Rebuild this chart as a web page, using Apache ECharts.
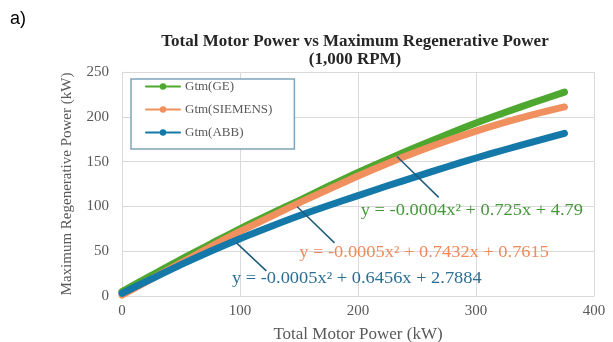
<!DOCTYPE html>
<html>
<head>
<meta charset="utf-8">
<script src="https://cdn.jsdelivr.net/npm/echarts@6/dist/echarts.min.js"></script>
<style>
  html, body { margin: 0; padding: 0; background: #ffffff; }
  #chart { width: 613px; height: 342px; }
</style>
</head>
<body>
<div id="chart"></div>
<script>
// Total motor power (kW) on the x axis
const motorPower = [0, 25, 50, 75, 100, 125, 150, 175, 200, 225, 250, 275, 300, 325, 350, 375];

// Maximum regenerative power (kW) for each motor maker
const gtmGE      = [5, 23, 41, 58, 75, 91, 106.5, 122.5, 138, 152.5, 166.5, 180, 193, 205, 216.5, 227.5];
const gtmSiemens = [1, 19, 37, 55, 72, 88, 104, 119, 134, 148, 161, 173, 184, 194, 203, 211];
const gtmABB     = [3, 19, 35, 50, 64, 77, 89.5, 101, 112, 123, 133.5, 144, 154, 163.5, 172.5, 181.5];

const seriesNames = ['Gtm(GE)', 'Gtm(SIEMENS)', 'Gtm(ABB)'];
const seriesColors = ['#4ea72e', '#f0905e', '#1479a8'];
const equationColors = ['#46973a', '#f08a5a', '#2b6f95'];

// Polynomial trendline equations, each with a leader line
const equations = [
  'y = -0.0004x² + 0.725x + 4.79',
  'y = -0.0005x² + 0.7432x + 0.7615',
  'y = -0.0005x² + 0.6456x + 2.7884'
];
// leader start (on the curve) and end (near the label), in data units
const leaderFrom = [[233, 155.6], [148.5, 99.6], [97, 59.3]];
const leaderTo   = [[268.4, 110.1], [180.1, 59.3], [122.3, 28.0]];
// label centre, in data units
const labelAt    = [[296.5, 95], [256, 48.3], [199, 18.9]];

const serif = '"Liberation Serif", "Times New Roman", "DejaVu Serif", serif';
const grayText = '#595959';

const chart = echarts.init(document.getElementById('chart'));

function pairs(xs, ys) { return xs.map((x, i) => [x, ys[i]]); }

const seriesData = [gtmGE, gtmSiemens, gtmABB];

chart.setOption({
  animation: false,
  backgroundColor: '#ffffff',
  title: {
    text: 'Total Motor Power vs Maximum Regenerative Power\n(1,000 RPM)',
    left: 355,
    textAlign: 'center',
    top: 33,
    padding: 0,
    textStyle: { fontFamily: serif, fontSize: 17, fontWeight: 'bold', color: '#262626', lineHeight: 18 }
  },
  legend: {
    data: seriesNames,
    orient: 'vertical',
    left: 131,
    top: 79,
    padding: [1, 22, 10, 14],
    itemWidth: 34,
    itemHeight: 8,
    itemGap: 10,
    borderColor: '#7fa4bb',
    borderWidth: 1.5,
    backgroundColor: '#ffffff',
    lineStyle: { width: 2 },
    textStyle: { fontFamily: serif, fontSize: 13, color: grayText, lineHeight: 13 }
  },
  grid: { left: 122, right: 19, top: 72, bottom: 46, outerBoundsMode: 'none' },
  xAxis: {
    type: 'value',
    min: 0, max: 400, interval: 100,
    name: 'Total Motor Power (kW)',
    nameLocation: 'middle',
    nameGap: 30,
    nameTextStyle: { fontFamily: serif, fontSize: 17, color: grayText },
    axisLine: { lineStyle: { color: '#d9d9d9', width: 1 } },
    axisTick: { show: false },
    axisLabel: { fontFamily: serif, fontSize: 15, color: grayText, margin: 8 },
    splitLine: { lineStyle: { color: '#d9d9d9', width: 1 } }
  },
  yAxis: {
    type: 'value',
    min: 0, max: 250, interval: 50,
    name: 'Maximum Regenerative Power (kW)',
    nameLocation: 'middle',
    nameGap: 47,
    nameTextStyle: { fontFamily: serif, fontSize: 15, color: grayText },
    axisLine: { show: true, lineStyle: { color: '#d9d9d9', width: 1 } },
    axisTick: { show: false },
    axisLabel: { fontFamily: serif, fontSize: 15, color: grayText, margin: 13 },
    splitLine: { lineStyle: { color: '#d9d9d9', width: 1 } }
  },
  series: seriesNames.map((name, i) => ({
    name: name,
    type: 'line',
    data: pairs(motorPower, seriesData[i]),
    smooth: 0.3,
    symbol: 'circle',
    symbolSize: 7,
    showSymbol: false,
    color: seriesColors[i],
    lineStyle: { width: 7, cap: 'round', join: 'round', color: seriesColors[i] },
    itemStyle: { color: seriesColors[i] },
    z: 2 + i
  }))
});

// Leader lines and trendline equations, placed through the chart's coordinate system
function toPx(p) { return chart.convertToPixel({ gridIndex: 0 }, p); }
const graphics = [];
equations.forEach((eq, i) => {
  const a = toPx(leaderFrom[i]);
  const b = toPx(leaderTo[i]);
  const c = toPx(labelAt[i]);
  graphics.push({
    type: 'line', z: 20,
    shape: { x1: a[0], y1: a[1], x2: b[0], y2: b[1] },
    style: { stroke: '#1e5c7c', lineWidth: 1.5 }
  });
  graphics.push({
    type: 'text', z: 21,
    x: c[0], y: c[1],
    scaleX: 1.15,
    style: {
      text: eq, fill: equationColors[i],
      font: '16px ' + serif,
      align: 'center', verticalAlign: 'middle'
    }
  });
});
// panel tag
graphics.push({
  type: 'text', x: 10, y: 10,
  style: { text: 'a)', fill: '#000000', font: '18px "Liberation Sans", Arial, sans-serif' }
});
chart.setOption({ graphic: graphics });
</script>
</body>
</html>
